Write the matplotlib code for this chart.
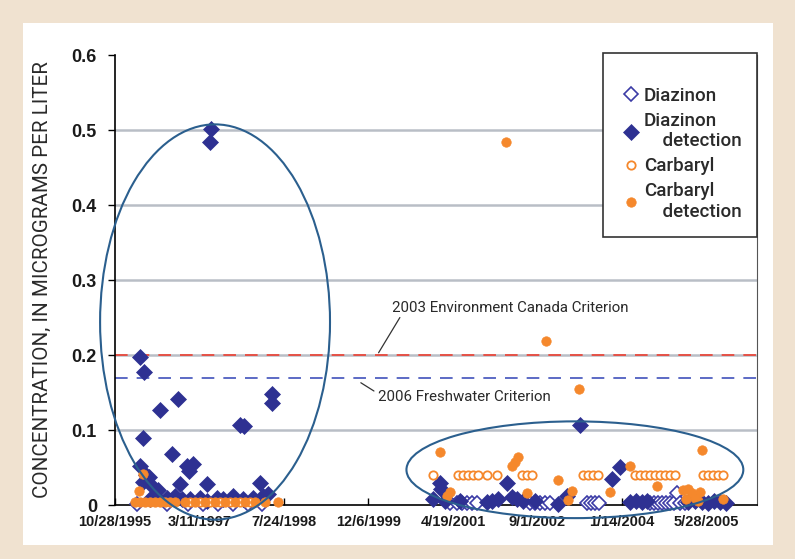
import numpy as np
import pandas as pd
import matplotlib
matplotlib.use('Agg')
import matplotlib.pyplot as plt
import matplotlib.dates as mdates
from matplotlib.patches import Ellipse, Rectangle

plt.rcParams['font.family'] = ['Liberation Sans', 'DejaVu Sans']
narrow = ['Roboto', 'DejaVu Sans']

# ---- data (micrograms per liter) ----
# diazinon, not detected
dz_nd_dates = ['1996-03-06', '1996-08-31', '1997-01-02', '1997-04-01', '1997-06-29', '1997-09-27',
               '1997-12-24', '1998-03-17',
               '2001-04-01', '2001-05-12', '2001-06-11', '2001-07-11', '2001-08-09', '2001-09-08',
               '2002-07-19', '2002-08-17', '2002-09-16', '2002-10-15', '2002-11-14',
               '2003-06-21', '2003-07-15', '2003-08-07', '2003-08-31',
               '2004-06-28', '2004-07-21', '2004-08-14', '2004-09-07', '2004-10-01', '2004-10-24',
               '2004-11-17', '2004-12-05', '2004-12-22', '2005-01-21']
dz_nd_vals = [0.001, 0.001, 0.001, 0.001, 0.001, 0.001,
              0.001, 0.001,
              0.003, 0.003, 0.003, 0.003, 0.003, 0.003,
              0.003, 0.003, 0.003, 0.003, 0.003,
              0.003, 0.003, 0.003, 0.003,
              0.003, 0.003, 0.003, 0.003, 0.003, 0.003,
              0.003, 0.016, 0.003, 0.003]

# diazinon, detected
dz_det_dates = ['1996-03-24', '1996-04-17', '1996-04-11', '1996-07-20', '1996-11-04', '1996-09-29',
                '1996-03-24', '1996-12-27', '1997-02-01', '1997-01-08', '1996-05-16', '1996-04-11',
                '1996-04-29', '1996-07-08', '1996-06-09', '1996-11-16', '1997-04-25', '1997-11-06',
                '1997-11-30', '1998-05-15', '1998-05-15', '1998-03-05', '1997-05-18', '1997-05-12',
                '1996-05-22', '1996-06-21', '1996-08-31', '1996-10-17', '1996-11-28', '1997-01-14',
                '1997-03-14', '1997-04-25', '1997-06-23', '1997-07-29', '1997-09-27', '1997-11-24',
                '1998-01-23', '1998-03-23', '1998-04-22',
                '2000-12-22', '2001-02-01', '2001-02-07', '2001-03-03', '2001-05-30', '2001-11-06',
                '2001-12-06', '2002-01-10', '2002-03-04', '2002-04-03', '2002-05-03', '2002-06-07',
                '2002-08-17', '2002-12-31', '2003-02-23', '2003-05-10', '2003-11-16', '2004-01-02',
                '2004-03-01', '2004-04-06', '2004-05-11', '2004-06-10', '2005-02-07', '2005-03-21',
                '2005-05-01', '2005-06-06', '2005-07-11', '2005-08-16', '2005-09-20']
dz_det_vals = [0.197, 0.177, 0.089, 0.127, 0.141, 0.068,
               0.052, 0.052, 0.055, 0.045, 0.037, 0.031,
               0.040, 0.020, 0.024, 0.028, 0.028, 0.107,
               0.105, 0.148, 0.136, 0.030, 0.502, 0.484,
               0.008, 0.012, 0.010, 0.012, 0.008, 0.008,
               0.010, 0.006, 0.010, 0.008, 0.012, 0.008,
               0.010, 0.012, 0.015,
               0.008, 0.029, 0.022, 0.005, 0.005, 0.004,
               0.006, 0.008, 0.029, 0.011, 0.008, 0.005,
               0.005, 0.002, 0.012, 0.107, 0.035, 0.051,
               0.004, 0.006, 0.004, 0.005, 0.004, 0.006,
               0.004, 0.003, 0.005, 0.004, 0.003]

# carbaryl, not detected
cb_nd_dates = ['1997-01-14', '1997-03-14', '1997-05-12', '1997-07-11', '1997-09-08', '1997-11-06',
               '1998-01-05',
               '2000-12-22', '2001-05-18', '2001-06-17', '2001-07-17', '2001-08-15', '2001-09-14',
               '2001-11-06', '2002-01-04', '2002-06-01', '2002-07-01', '2002-07-31',
               '2003-05-28', '2003-06-27', '2003-07-27', '2003-08-25',
               '2004-03-31', '2004-04-29', '2004-05-29', '2004-06-28', '2004-07-27',
               '2004-08-26', '2004-09-24', '2004-10-24', '2004-11-23',
               '2005-05-07', '2005-06-06', '2005-07-06', '2005-08-04', '2005-09-03']
cb_nd_vals = [0.004, 0.004, 0.004, 0.004, 0.004, 0.004,
              0.004,
              0.04, 0.04, 0.04, 0.04, 0.04, 0.04,
              0.04, 0.04, 0.04, 0.04, 0.04,
              0.04, 0.04, 0.04, 0.04,
              0.04, 0.04, 0.04, 0.04, 0.04,
              0.04, 0.04, 0.04, 0.04,
              0.04, 0.04, 0.04, 0.04, 0.04]

# carbaryl, detected
cb_det_dates = ['1996-04-11', '1996-03-18',
                '1996-02-23', '1996-03-24', '1996-04-23', '1996-05-22', '1996-06-21', '1996-07-20',
                '1996-08-19', '1996-09-17', '1996-10-17', '1996-12-15', '1997-02-12', '1997-04-13',
                '1997-06-11', '1997-08-09', '1997-10-08', '1997-12-06', '1998-02-03', '1998-04-04',
                '1998-06-20',
                '2001-02-01', '2002-05-09', '2002-04-21', '2002-04-03', '2001-04-01', '2001-03-15',
                '2002-07-01', '2002-12-31', '2003-03-24', '2003-03-01', '2003-11-04', '2004-03-01',
                '2004-08-08', '2005-05-01', '2005-01-09', '2005-02-07', '2005-03-03', '2005-03-21',
                '2005-04-07', '2005-01-27', '2005-04-19', '2005-09-03',
                '2002-02-27', '2002-10-21', '2003-05-04']
cb_det_vals = [0.042, 0.019,
               0.004, 0.004, 0.004, 0.004, 0.004, 0.004,
               0.004, 0.004, 0.004, 0.004, 0.004, 0.004,
               0.004, 0.004, 0.004, 0.004, 0.004, 0.004,
               0.004,
               0.071, 0.064, 0.058, 0.052, 0.018, 0.012,
               0.016, 0.034, 0.019, 0.007, 0.018, 0.052,
               0.026, 0.073, 0.020, 0.022, 0.016, 0.010,
               0.006, 0.008, 0.018, 0.008,
               0.484, 0.219, 0.155]

criteria = {'2003 Environment Canada Criterion': 0.20,
            '2006 Freshwater Criterion': 0.17}

tick_labels = ['10/28/1995', '3/11/1997', '7/24/1998', '12/6/1999',
               '4/19/2001', '9/1/2002', '1/14/2004', '5/28/2005']

navy = '#2e3192'
orange = '#f5882c'
ring = '#2b5f8e'
ink = '#2a2a2a'

fig = plt.figure(figsize=(7.95, 5.59), dpi=100)
fig.patch.set_facecolor('#f0e2d0')
fig.patches.append(Rectangle((0.029, 0.025), 0.943, 0.934, transform=fig.transFigure,
                             facecolor='white', edgecolor='none', zorder=0))

ax = fig.add_axes([0.1447, 0.0966, 0.8075, 0.805])
ax.set_facecolor('none')
ax.set_zorder(2)

d = pd.to_datetime
ms_d = 8.0
ms_c = 6.8
ax.plot(d(dz_nd_dates), dz_nd_vals, 'D', ms=ms_d - 1, mfc='white', mec='#3b3ba6', mew=1.2,
        ls='none', clip_on=False, zorder=3, label='Diazinon')
ax.plot(d(dz_det_dates), dz_det_vals, 'D', ms=ms_d, mfc=navy, mec=navy, mew=0.5,
        ls='none', clip_on=False, zorder=4, label='Diazinon\n    detection')
ax.plot(d(cb_nd_dates), cb_nd_vals, 'o', ms=ms_c - 0.8, mfc='white', mec=orange, mew=1.3,
        ls='none', clip_on=False, zorder=5, label='Carbaryl')
ax.plot(d(cb_det_dates), cb_det_vals, 'o', ms=ms_c, mfc=orange, mec=orange, mew=0.5,
        ls='none', clip_on=False, zorder=6, label='Carbaryl\n    detection')

# criterion lines
ax.axhline(criteria['2003 Environment Canada Criterion'], color='#e8483c', lw=1.3,
           dashes=(7, 5), zorder=2.5)
ax.axhline(criteria['2006 Freshwater Criterion'], color='#4f5fc0', lw=1.3,
           dashes=(7, 5), zorder=2.5)

x0 = d('1995-10-28')
ax.annotate('2003 Environment Canada Criterion',
            xy=(x0 + pd.Timedelta(days=1560), criteria['2003 Environment Canada Criterion'] + 0.003),
            xytext=(x0 + pd.Timedelta(days=1640), 0.263),
            ha='left', va='center', fontsize=10.8, family=narrow, color=ink,
            arrowprops=dict(arrowstyle='-', color='#333333', lw=0.9,
                            relpos=(0.04, 0.0), shrinkA=0, shrinkB=0))
ax.annotate('2006 Freshwater Criterion',
            xy=(x0 + pd.Timedelta(days=1455), criteria['2006 Freshwater Criterion'] - 0.007),
            xytext=(x0 + pd.Timedelta(days=1556), 0.144),
            ha='left', va='center', fontsize=10.8, family=narrow, color=ink,
            arrowprops=dict(arrowstyle='-', color='#333333', lw=0.9,
                            relpos=(0.0, 0.75), shrinkA=1, shrinkB=0))

# circled groups
for cx, cy, w, h in [('1997-06-11', 0.244, 1361, 0.527), ('2003-04-11', 0.047, 1994, 0.129)]:
    ax.add_patch(Ellipse((mdates.date2num(d(cx)), cy), w, h, fill=False, ec=ring,
                         lw=1.5, clip_on=False, zorder=8))

# axes
ax.set_xlim(x0, x0 + pd.Timedelta(days=3800))
ax.set_ylim(0, 0.6)
ax.set_xticks(d(tick_labels, format='%m/%d/%Y'))
ax.set_xticklabels(tick_labels, fontsize=10.5, fontweight='bold', color='#1a1a1a')
ax.set_yticks([0, 0.1, 0.2, 0.3, 0.4, 0.5, 0.6])
ax.set_yticklabels(['0', '0.1', '0.2', '0.3', '0.4', '0.5', '0.6'], fontsize=13,
                   fontweight='bold', color='#1a1a1a')
ax.tick_params(axis='x', direction='in', length=5, width=1, pad=7)
ax.tick_params(axis='y', direction='out', length=5, width=1, pad=8)
for yv in [0.1, 0.2, 0.3, 0.4, 0.5]:
    ax.axhline(yv, color='#b9bec6', lw=1.8, zorder=1)
ax.spines['top'].set_visible(False)
ax.spines['right'].set_color('#555555')
ax.spines['left'].set_linewidth(1.2)
ax.spines['bottom'].set_linewidth(1.2)
ax.set_ylabel('CONCENTRATION, IN MICROGRAMS PER LITER', family=narrow, fontsize=14.8,
              color=ink, labelpad=14)

# legend: fixed box in the upper right corner, entries placed inside it
ax.add_patch(Rectangle((0.760, 0.5956), 0.240, 0.4088, transform=ax.transAxes,
                       facecolor='white', edgecolor='#333333', lw=1.2, clip_on=False, zorder=9))
leg = ax.legend(loc='upper left', bbox_to_anchor=(0.792, 0.929), frameon=False,
                borderpad=0, labelspacing=0.38, handlelength=0.8, handletextpad=0.3,
                borderaxespad=0, prop=dict(family=narrow, size=13.5, weight='medium'))
leg.set_zorder(10)
for t in leg.get_texts():
    t.set_color(ink)
    t.set_linespacing(1.15)

plt.savefig('out.png', dpi=100, facecolor=fig.get_facecolor())
